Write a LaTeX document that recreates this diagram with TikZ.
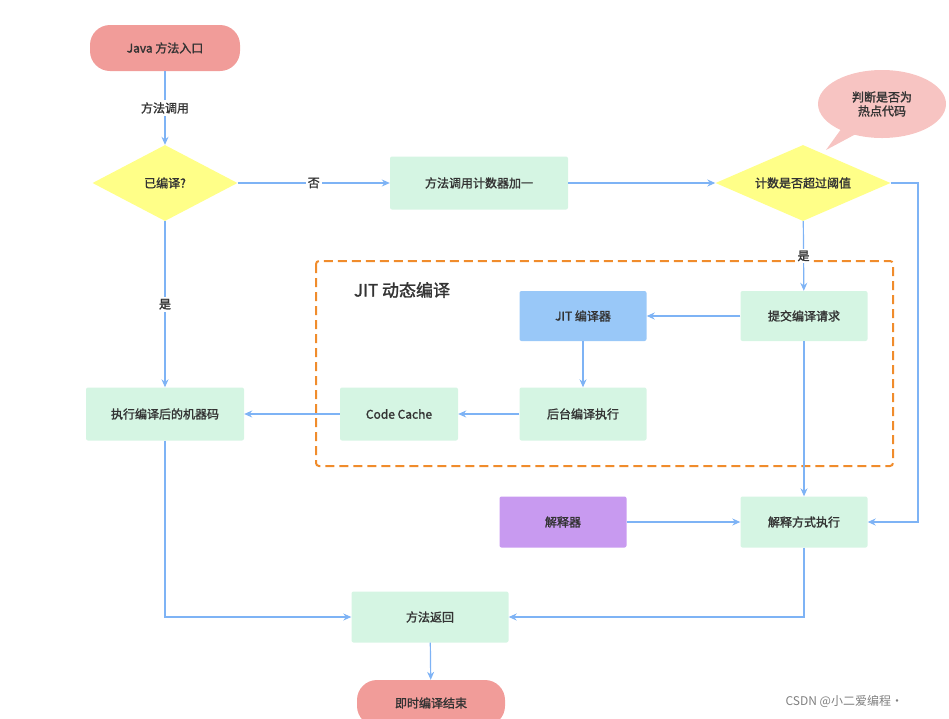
\documentclass[tikz,border=0pt]{standalone}
\usepackage{fontspec}
\setmainfont{Noto Sans CJK SC}[AutoFakeBold=1.6]
\usetikzlibrary{shapes.geometric,shapes.callouts,arrows.meta}
\definecolor{lg}{HTML}{D5F5E3}
\definecolor{ln}{HTML}{7EB3F5}
\definecolor{pk}{HTML}{F19C99}
\definecolor{yl}{HTML}{FFFF88}
\definecolor{bl}{HTML}{99C8F8}
\definecolor{pu}{HTML}{C89AF0}
\definecolor{og}{HTML}{F08C2C}
\definecolor{tx}{HTML}{333333}
\begin{document}
\begin{tikzpicture}[x=1pt,y=-1pt,
  every node/.style={font=\fontsize{12}{14}\selectfont\bfseries,text=tx},
  box/.style={draw=none,fill=lg,rounded corners=2pt,minimum width=127pt,minimum height=50pt,inner sep=0},
  pill/.style={fill=pk,rounded corners=20pt,minimum width=150pt,minimum height=46pt},
  dia/.style={diamond,fill=yl,aspect=1.9,inner sep=0},
  ar/.style={draw=ln,line width=1.2pt,-{Stealth[length=8pt,width=7pt]}},
  lab/.style={fill=white,inner sep=2pt}]
\useasboundingbox (0,0) rectangle (949,718);
\begin{scope}
\clip (0,0) rectangle (949,718);
\node[pill] (start) at (165,48) {Java 方法入口};
\node[dia,minimum width=145pt,minimum height=76pt] (d1) at (165,183) {已编译?};
\node[box,minimum width=178pt,minimum height=53pt] (cnt) at (479,183) {方法调用计数器加一};
\node[dia,minimum width=175pt,minimum height=76pt] (d2) at (803,183) {计数是否超过阈值};
\node[ellipse callout,fill=pk!60,minimum width=128pt,minimum height=68pt,callout absolute pointer={(826,150)},align=center] (note) at (882,104) {判断是否为\\热点代码};
\draw[og,line width=2pt,dash pattern=on 9pt off 5pt,rounded corners=3pt] (316,261) rectangle (893,466);
\node[font=\fontsize{17}{19}\selectfont\bfseries] (jitt) at (402,290) {JIT 动态编译};
\node[box,fill=bl] (jit) at (583,316) {JIT 编译器};
\node[box] (sub) at (804,316) {提交编译请求};
\node[box,minimum width=118pt,minimum height=53pt] (cc) at (399,414) {Code Cache};
\node[box,minimum height=53pt] (bg) at (583,414) {后台编译执行};
\node[box,minimum width=158pt,minimum height=53pt] (exe) at (165,414) {执行编译后的机器码};
\node[box,fill=pu,minimum height=51pt] (itp) at (563,522) {解释器};
\node[box,minimum height=51pt] (ie) at (804,522) {解释方式执行};
\node[box,minimum width=157pt,minimum height=51pt] (ret) at (430,617) {方法返回};
\node[pill,minimum width=148pt] (end) at (431,703) {即时编译结束};
\node[text=gray,font=\fontsize{12}{14}\selectfont,anchor=west] (wm) at (782,701) {CSDN @小二爱编程·};
\coordinate (c1) at (918,183);
\coordinate (c2) at (918,522);
\draw[ar] (start) -- node[lab] {方法调用} (d1);
\draw[ar] (d1) -- node[lab] {否} (cnt);
\draw[ar] (cnt) -- (d2);
\draw[ar] (d2) -- node[lab] {是} (sub);
\draw[ar] (d2.east) -- (c1) -- (c2) -- (ie.east);
\draw[ar] (sub) -- (jit);
\draw[ar] (jit) -- (bg);
\draw[ar] (bg) -- (cc);
\draw[ar] (cc) -- (exe);
\draw[ar] (d1) -- node[lab] {是} (exe);
\draw[ar] (sub) -- (ie);
\draw[ar] (itp) -- (ie);
\draw[ar] (exe.south) |- (ret.west);
\draw[ar] (ie.south) |- (ret.east);
\draw[ar] (ret) -- (end);
\end{scope}
\end{tikzpicture}
\end{document}
